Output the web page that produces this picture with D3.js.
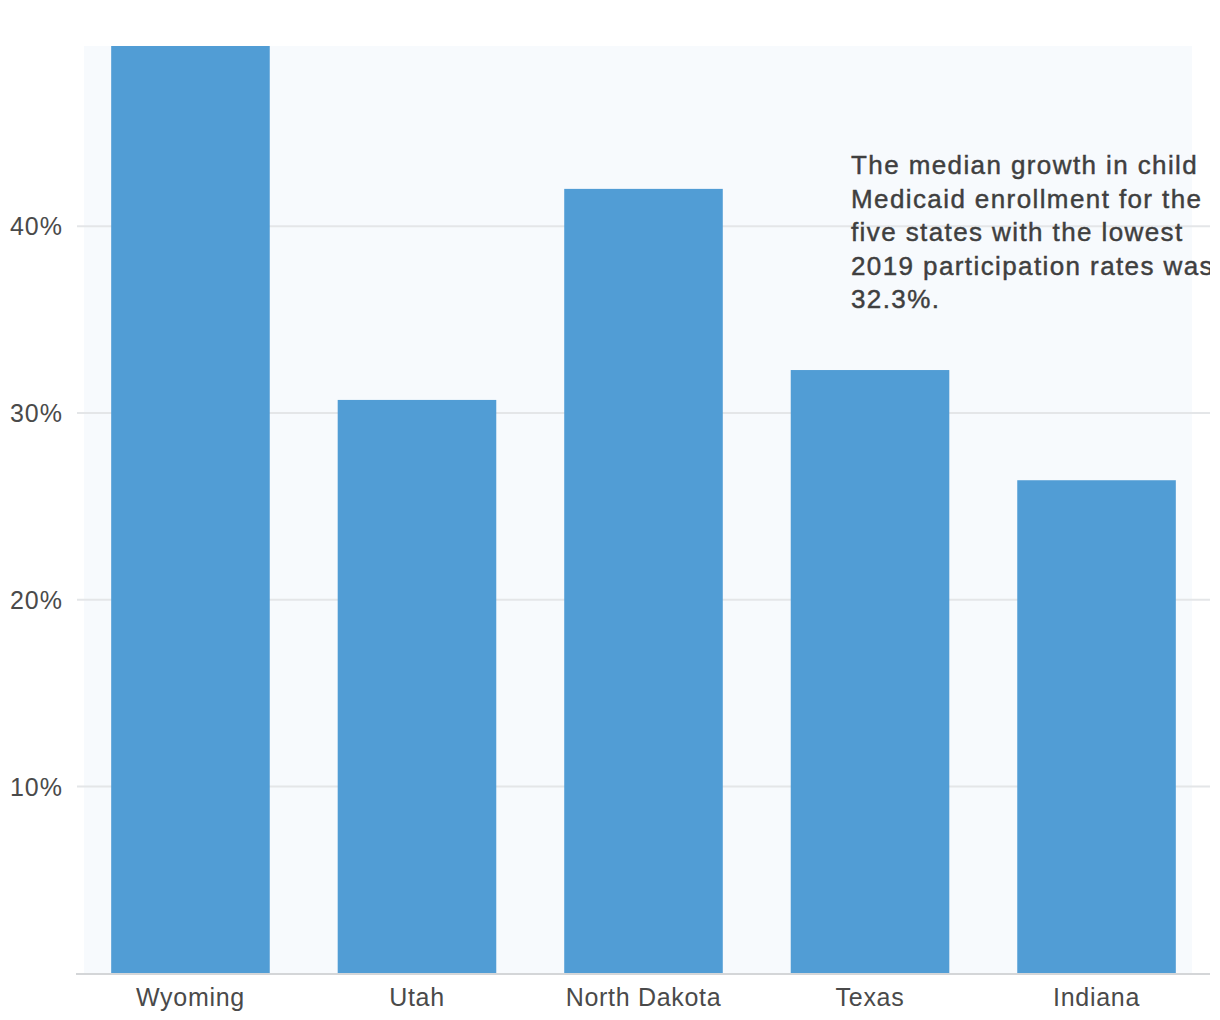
<!DOCTYPE html>
<html>
<head>
<meta charset="utf-8">
<script src="https://cdn.jsdelivr.net/npm/d3@7"></script>
<style>
  html, body { margin: 0; padding: 0; background: #ffffff; }
  svg { display: block; }
  text { font-family: "Liberation Sans", Arial, Helvetica, sans-serif; }
</style>
</head>
<body>
<svg id="chart" width="1210" height="1020"></svg>
<script>
// ---- data ----
const categories = ["Wyoming", "Utah", "North Dakota", "Texas", "Indiana"];
const growth = [55.0, 30.7, 42.0, 32.3, 26.4];   // % growth in child Medicaid enrollment (Wyoming runs past the top)
const yTicks = [10, 20, 30, 40];
const yMax = 49.65;
const annotationLines = [
  "The median growth in child",
  "Medicaid enrollment for the",
  "five states with the lowest",
  "2019 participation rates was",
  "32.3%."
];

// ---- layout ----
const svg = d3.select("#chart");
const plot = { left: 84, right: 1192, top: 46, bottom: 973.3 };

const x = d3.scaleBand()
  .domain(categories)
  .range([84, 1203])
  .paddingInner(0.3)
  .paddingOuter(0.12);

const y = d3.scaleLinear()
  .domain([0, yMax])
  .range([plot.bottom, plot.top]);

// plot background
svg.append("rect")
  .attr("x", plot.left).attr("y", plot.top)
  .attr("width", plot.right - plot.left)
  .attr("height", plot.bottom - plot.top)
  .attr("fill", "#f7fafd");

// gridlines
svg.append("g").selectAll("line")
  .data(yTicks).join("line")
  .attr("x1", 77).attr("x2", 1210)
  .attr("y1", d => y(d)).attr("y2", d => y(d))
  .attr("stroke", "#e4e6e8").attr("stroke-width", 2);

// y tick labels
svg.append("g").selectAll("text")
  .data(yTicks).join("text")
  .attr("x", 63).attr("y", d => y(d))
  .attr("dy", "0.36em")
  .attr("text-anchor", "end")
  .attr("font-size", 25)
  .attr("letter-spacing", 1)
  .attr("fill", "#4a4a4a")
  .text(d => d + "%");

// bars (clipped to plot area)
svg.append("clipPath").attr("id", "plotclip")
  .append("rect")
  .attr("x", 0).attr("y", plot.top)
  .attr("width", 1210).attr("height", plot.bottom - plot.top);

svg.append("g").attr("clip-path", "url(#plotclip)")
  .selectAll("rect")
  .data(categories).join("rect")
  .attr("x", d => x(d))
  .attr("width", x.bandwidth())
  .attr("y", (d, i) => y(growth[i]))
  .attr("height", (d, i) => plot.bottom - y(growth[i]))
  .attr("fill", "#519dd5");

// baseline axis
const xAxis = d3.axisBottom(x).tickSize(0).tickPadding(14);
const gx = svg.append("g")
  .attr("transform", `translate(0, 974)`)
  .call(xAxis);
gx.select(".domain").remove();
gx.append("line")
  .attr("x1", 76).attr("x2", 1210)
  .attr("y1", 0).attr("y2", 0)
  .attr("stroke", "#d4d6d8").attr("stroke-width", 2);
gx.selectAll(".tick text")
  .attr("font-size", 25)
  .attr("letter-spacing", 0.7)
  .attr("font-family", "'Liberation Sans', Arial, sans-serif")
  .attr("fill", "#4a4a4a");

// annotation
svg.append("text")
  .attr("x", 851).attr("y", 174)
  .attr("font-size", 26)
  .attr("letter-spacing", 1.4)
  .attr("fill", "#3f3f3f")
  .attr("stroke", "#3f3f3f")
  .attr("stroke-width", 0.45)
  .selectAll("tspan")
  .data(annotationLines).join("tspan")
  .attr("x", 851)
  .attr("dy", (d, i) => i === 0 ? 0 : 33.5)
  .text(d => d);
</script>
</body>
</html>
